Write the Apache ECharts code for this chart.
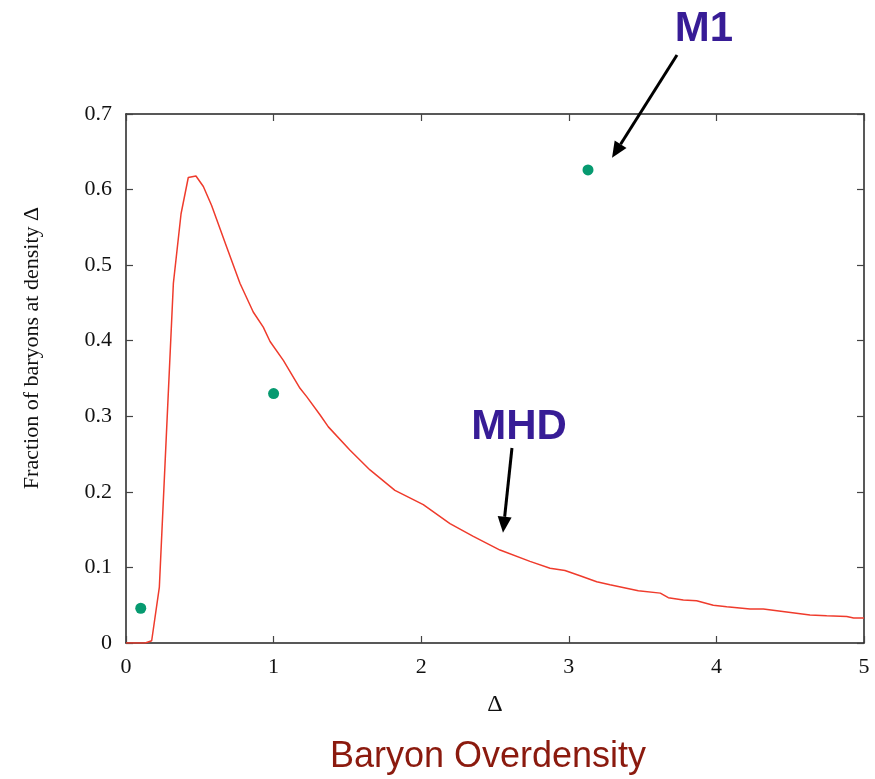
<!DOCTYPE html>
<html><head><meta charset="utf-8">
<script src="https://cdn.jsdelivr.net/npm/echarts@6/dist/echarts.min.js"></script>
<style>html,body{margin:0;padding:0;background:#fff}#c{width:875px;height:779px}</style>
</head><body><div id="c"></div>
<script>
// MHD curve (Delta, fraction)
const mhdX = [0.0,0.13,0.174,0.226,0.276,0.321,0.373,0.422,0.474,0.524,0.58,0.682,0.772,0.862,0.93,0.976,1.066,1.179,1.224,1.314,1.371,1.518,1.653,1.822,2.014,2.195,2.353,2.534,2.737,2.873,2.974,3.076,3.189,3.279,3.471,3.62,3.674,3.776,3.866,3.979,4.07,4.228,4.318,4.476,4.634,4.747,4.883,4.93,5.0];
const mhdY = [0.0,0.0,0.003,0.074,0.286,0.476,0.568,0.616,0.618,0.604,0.579,0.524,0.476,0.438,0.418,0.399,0.374,0.337,0.326,0.302,0.286,0.255,0.229,0.202,0.183,0.158,0.141,0.123,0.108,0.099,0.096,0.089,0.081,0.077,0.069,0.066,0.060,0.057,0.056,0.050,0.048,0.045,0.045,0.041,0.037,0.036,0.035,0.033,0.033];
// M1 points
const m1X = [0.1, 1.0, 3.13];
const m1Y = [0.046, 0.33, 0.626];
const xTicks = [0,1,2,3,4,5];
const yTicks = [0,0.1,0.2,0.3,0.4,0.5,0.6,0.7];
// annotation arrows in data coords [from, to]
const arrowM1 = [[3.733,0.778],[3.293,0.642]];
const arrowMHD = [[2.615,0.258],[2.554,0.146]];

const chart = echarts.init(document.getElementById('c'));
const serif = '"Liberation Serif","DejaVu Serif",serif';
const axStyle = {lineStyle:{color:'#222',width:1.5}};
const tick = {show:true,inside:true,length:7,lineStyle:{color:'#444',width:1.2}};
chart.setOption({
  animation:false,
  backgroundColor:'#fff',
  grid:{left:126,right:11,top:114,bottom:136,containLabel:false},
  xAxis:[{type:'value',min:0,max:5,interval:1,position:'bottom',
    axisLine:{show:true,onZero:false,...axStyle},axisTick:tick,splitLine:{show:false},
    axisLabel:{fontFamily:serif,fontSize:22,color:'#111',margin:13},
    name:'Δ',nameLocation:'middle',nameGap:50,nameTextStyle:{fontFamily:serif,fontSize:24,color:'#111'}},
    {type:'value',min:0,max:5,interval:1,position:'top',
    axisLine:{show:true,onZero:false,...axStyle},axisTick:tick,axisLabel:{show:false},splitLine:{show:false}}],
  yAxis:[{type:'value',min:0,max:0.7,interval:0.1,position:'left',
    axisLine:{show:true,onZero:false,...axStyle},axisTick:tick,splitLine:{show:false},
    axisLabel:{fontFamily:serif,fontSize:22,color:'#111',margin:14,formatter:v=>String(Math.round(v*10)/10)}},
    {type:'value',min:0,max:0.7,interval:0.1,position:'right',
    axisLine:{show:true,onZero:false,...axStyle},axisTick:tick,axisLabel:{show:false},splitLine:{show:false}}],
  series:[
    {type:'line',name:'MHD',data:mhdX.map((x,i)=>[x,mhdY[i]]),showSymbol:false,symbol:'none',
      lineStyle:{color:'#ef3b2c',width:1.5},itemStyle:{color:'#ef3b2c'},clip:true,z:3},
    {type:'scatter',name:'M1',data:m1X.map((x,i)=>[x,m1Y[i]]),symbol:'circle',symbolSize:11,
      itemStyle:{color:'#069a70',opacity:1},z:4}
  ]
});

function arrow(from,to){
  const a = chart.convertToPixel({gridIndex:0},from);
  const b = chart.convertToPixel({gridIndex:0},to);
  const dx=b[0]-a[0], dy=b[1]-a[1], L=Math.hypot(dx,dy);
  const ux=dx/L, uy=dy/L, hl=16, hw=7;
  const bx=b[0]-ux*hl, by=b[1]-uy*hl;
  return [
    {type:'line',shape:{x1:a[0],y1:a[1],x2:bx,y2:by},style:{stroke:'#000',lineWidth:3},z:10},
    {type:'polygon',shape:{points:[[b[0],b[1]],[bx-uy*hw,by+ux*hw],[bx+uy*hw,by-ux*hw]]},style:{fill:'#000'},z:10}
  ];
}
chart.setOption({graphic:[
  ...arrow(arrowM1[0],arrowM1[1]),
  ...arrow(arrowMHD[0],arrowMHD[1]),
  {type:'text',x:704,y:29,style:{text:'M1',font:'bold 42px "Liberation Sans",Arial,sans-serif',fill:'#371c96',textAlign:'center',textVerticalAlign:'middle'}},
  {type:'text',x:519,y:427,style:{text:'MHD',font:'bold 42px "Liberation Sans",Arial,sans-serif',fill:'#371c96',textAlign:'center',textVerticalAlign:'middle'}},
  {type:'text',x:488,y:757,style:{text:'Baryon Overdensity',font:'36px "Liberation Sans",Arial,sans-serif',fill:'#8b1a0e',textAlign:'center',textVerticalAlign:'middle'}},
  {type:'text',x:32,y:348,rotation:Math.PI/2,style:{text:'Fraction of baryons at density Δ',font:'22px "Liberation Serif","DejaVu Serif",serif',fill:'#111',textAlign:'center',textVerticalAlign:'middle'}}
]});
</script></body></html>
